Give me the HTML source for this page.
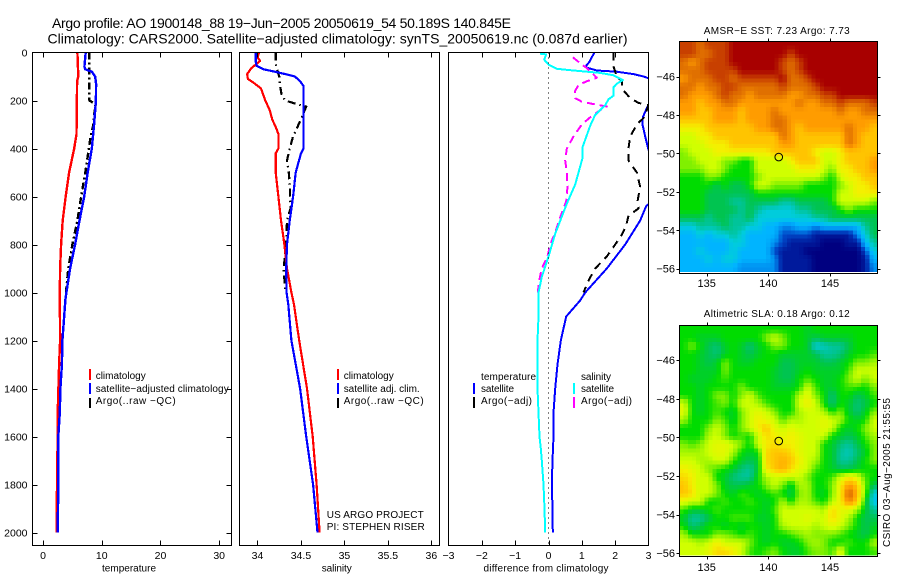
<!DOCTYPE html>
<html>
<head>
<meta charset="utf-8">
<title>Argo profile</title>
<style>
html,body{margin:0;padding:0;background:#fff;}
svg{display:block;font-family:"Liberation Sans",sans-serif;fill:#000;}
text{font-size:10px;}
.ttl{font-size:14px;}
</style>
</head>
<body>
<svg id="chart" xmlns="http://www.w3.org/2000/svg" width="900" height="580" viewBox="0 0 900 580">
<rect width="900" height="580" fill="#fff"/>
<g id="marks"></g>
<text class="ttl" x="52" y="28" textLength="459" lengthAdjust="spacing">Argo profile: AO 1900148_88 19−Jun−2005 20050619_54 50.189S 140.845E</text>
<text class="ttl" x="47.5" y="43.5" textLength="580" lengthAdjust="spacing">Climatology: CARS2000. Satellite−adjusted climatology: synTS_20050619.nc (0.087d earlier)</text>

<text x="102" y="571.5" textLength="54">temperature</text>
<text x="321.7" y="571.5" textLength="30">salinity</text>
<text x="483.5" y="571.5" textLength="125">difference from climatology</text>

<g>
<rect x="89" y="369" width="2" height="11" fill="#f00"/>
<rect x="89" y="383" width="2" height="11" fill="#00f"/>
<rect x="89" y="398" width="2" height="10" fill="#000"/>
<text x="95.7" y="379" textLength="50">climatology</text>
<text x="95.7" y="392" textLength="133">satellite−adjusted climatology</text>
<text x="95.7" y="404" textLength="80">Argo(..raw −QC)</text>
</g>

<g>
<rect x="337" y="369" width="2" height="11" fill="#f00"/>
<rect x="337" y="383" width="2" height="11" fill="#00f"/>
<rect x="337" y="398" width="2" height="10" fill="#000"/>
<text x="343.7" y="379" textLength="50">climatology</text>
<text x="343.7" y="392" textLength="76">satellite adj. clim.</text>
<text x="343.7" y="404" textLength="80">Argo(..raw −QC)</text>
<text x="326.7" y="518" textLength="97">US ARGO PROJECT</text>
<text x="326.7" y="530" textLength="98">PI: STEPHEN RISER</text>
</g>

<g>
<text x="481" y="380" textLength="55">temperature</text>
<rect x="473" y="383" width="2" height="11" fill="#00f"/>
<rect x="473" y="397" width="2" height="11" fill="#000"/>
<text x="481" y="392" textLength="33">satellite</text>
<text x="481" y="404" textLength="51">Argo(−adj)</text>
<text x="581" y="380" textLength="30">salinity</text>
<rect x="573" y="383" width="2" height="11" fill="#0ff"/>
<rect x="573" y="397" width="2" height="11" fill="#f0f"/>
<text x="581" y="392" textLength="33">satellite</text>
<text x="581" y="404" textLength="51">Argo(−adj)</text>
</g>

<text x="776.7" y="34" text-anchor="middle" textLength="146">AMSR−E SST: 7.23 Argo: 7.73</text>
<text x="776.7" y="317" text-anchor="middle" textLength="146">Altimetric SLA: 0.18 Argo: 0.12</text>
<text transform="translate(890,547) rotate(-90)" textLength="149">CSIRO 03−Aug−2005 21:55:55</text>
</svg>

<script>
// ---- profile tick labels ----
const depthTicks = [0,200,400,600,800,1000,1200,1400,1600,1800,2000];
const tempTicks = [0,10,20,30];
const salTicks = [34,34.5,35,35.5,36];
const salTickLabels = ['34','34.5','35','35.5','36'];
const diffTicks = [-3,-2,-1,0,1,2,3];
const lonTicks = [135,140,145];
const latTicks = [-46,-48,-50,-52,-54,-56];

// ---- temperature panel ----
const tempClimDepth = [0,100,120,340,400,500,600,700,800,900,1000,1200,1300,1500,1700,1900,2000];
const tempClimValue = [5.85,6.0,5.8,5.7,5.3,4.43,3.86,3.35,3.07,2.9,2.85,2.9,2.73,2.5,2.45,2.33,2.3];
const tempSatDepth = [0,60,70,80,100,130,200,300,400,500,600,700,800,900,1000,1030,1200,1300,1400,1500,1600,1800,2000];
const tempSatValue = [7.27,7.04,7.2,8.3,8.86,9.03,9.0,8.69,8.3,7.6,7.0,6.2,5.45,4.6,3.97,3.8,3.29,3.2,2.95,2.85,2.6,2.6,2.5];
const tempArgoDepth = [0,50,100,200,210,230,240,300,350,400,500,600,700,800,900,1000];
const tempArgoValue = [7.84,7.9,7.9,7.9,8.57,9.15,8.8,8.57,8.1,7.8,7.2,6.5,5.85,5.0,4.3,3.9];

// ---- salinity panel ----
const salClimDepth = [0,20,35,50,65,90,110,130,150,200,240,280,310,340,400,420,500,600,700,800,900,1000,1050,1200,1400,1600,1800,2000];
const salClimValue = [34.02,34.0,34.03,33.98,33.93,33.88,33.89,33.97,34.04,34.09,34.14,34.17,34.21,34.24,34.24,34.21,34.21,34.24,34.27,34.31,34.34,34.39,34.42,34.48,34.57,34.635,34.68,34.715];
const salSatDepth = [0,40,55,70,80,90,100,120,140,400,420,500,600,700,800,900,1000,1050,1200,1400,1600,1800,2000];
const salSatValue = [33.98,33.98,33.99,34.07,34.2,34.32,34.43,34.49,34.53,34.53,34.5,34.44,34.41,34.37,34.34,34.33,34.335,34.355,34.39,34.49,34.56,34.64,34.69];
const salArgoDepth = [0,50,100,140,180,200,215,225,270,310,350,400,450,500,550,650,700,800,900,1000];
const salArgoValue = [34.21,34.21,34.25,34.26,34.28,34.32,34.45,34.56,34.51,34.46,34.41,34.37,34.34,34.36,34.37,34.38,34.34,34.33,34.3,34.32];

// ---- difference panel ----
const diffTempSatDepth = [0,20,40,60,65,75,80,90,100,110,210,225,270,300,350,405,450,620,640,700,800,900,1000,1033,1100,1200,1300,1400,1500,1600,1700,1800,1900,2000];
const diffTempSatValue = [1.38,1.3,1.22,1.1,1.2,1.45,2.05,2.55,2.85,3.05,3.15,2.97,2.83,2.82,2.9,3.0,3.35,3.1,2.93,2.75,2.3,1.75,1.1,0.95,0.53,0.37,0.27,0.2,0.15,0.15,0.12,0.1,0.12,0.13];
const diffTempArgoDepth = [0,30,50,100,120,150,190,210,220,270,300,350,400,450,500,560,620,650,680,720,760,800,850,900,950,1000];
const diffTempArgoValue = [1.95,1.95,1.93,2.05,2.2,2.2,2.45,2.7,3.0,2.87,2.65,2.45,2.4,2.4,2.65,2.75,2.67,2.7,2.4,2.33,2.2,2.0,1.75,1.4,1.2,1.05];
const diffSalSatDepth = [5,8,30,50,68,75,85,95,115,130,145,180,195,220,260,305,395,440,550,630,755,850,935,1000,1100,1200,1400,1500,1600,1650,1700,1800,1900,2000];
const diffSalSatValue = [-0.25,-0.07,-0.13,0,0.25,0.75,1.55,1.95,2.23,2.05,1.95,1.95,1.8,1.7,1.4,1.25,1.02,1.02,0.8,0.55,0.2,0,-0.2,-0.3,-0.3,-0.33,-0.33,-0.3,-0.27,-0.23,-0.2,-0.15,-0.12,-0.1];
const diffSalArgoDepth = [20,50,65,85,105,120,135,160,190,205,215,225,240,270,300,350,400,450,500,560,620,680,750,800,850,900,950,1000];
const diffSalArgoValue = [0.73,1.0,1.15,1.3,1.45,1.15,0.9,0.8,0.8,1.0,1.35,1.75,1.55,1.25,1.0,0.75,0.55,0.5,0.55,0.57,0.53,0.37,0.2,0.05,-0.03,-0.2,-0.28,-0.32];

// ---- float position ----
const floatLon = 140.845;
const floatLat = -50.189;

// ---- map cell values (colour-scale levels, north to south) ----
const sstCells = [
[15,15,14,15,15,15,16,16,16,16,16,16,16,16,16,16,16,16,16,16,16,16,16,16],
[15,15,14,14,15,15,16,16,16,16,16,16,16,15,16,16,16,16,16,16,16,16,16,16],
[14,13,14,15,15,15,16,16,16,16,16,16,15,14,15,16,16,16,16,16,16,16,16,16],
[14,14,14,15,15,15,15,16,16,16,16,16,15,14,15,16,16,16,16,16,16,16,16,16],
[13,14,14,14,15,15,14,15,15,15,15,15,16,14,14,15,16,16,16,16,16,16,16,16],
[14,14,13,14,14,15,15,14,14,14,14,14,15,14,14,14,15,16,16,16,16,16,16,16],
[14,13,13,13,14,15,14,14,13,14,14,14,14,13,13,14,14,15,15,16,16,16,16,16],
[13,13,12,13,13,14,14,13,13,13,13,13,13,13,14,13,13,14,14,15,14,14,14,15],
[13,13,12,12,13,13,13,12,13,13,13,14,13,13,13,13,13,13,13,14,13,13,14,14],
[12,12,12,12,13,13,13,12,13,13,13,14,14,13,13,13,13,13,13,13,13,13,13,13],
[11,11,11,12,12,12,12,12,12,13,13,14,14,13,12,13,13,13,13,13,14,13,13,12],
[10,10,11,11,12,12,12,12,12,12,12,12,14,13,12,12,12,12,12,12,14,13,12,12],
[10,10,10,11,11,11,12,12,12,12,12,12,13,13,12,12,12,12,12,12,14,13,12,12],
[9,10,10,10,11,11,11,11,11,11,11,12,12,12,12,12,11,10,10,11,12,12,12,12],
[9,9,10,10,10,9,9,8,8,10,10,10,10,11,12,12,12,10,10,11,12,12,12,13],
[9,9,9,10,10,9,8,8,8,10,10,10,10,10,11,11,11,10,9,11,11,12,12,13],
[8,8,8,9,9,8,8,8,8,9,10,10,10,10,10,10,10,9,8,10,11,11,12,12],
[8,8,8,8,7,8,7,7,8,10,10,9,9,9,9,8,8,8,8,9,10,11,11,12],
[8,8,8,7,7,7,7,7,7,8,8,8,8,8,8,8,8,8,8,10,10,11,11,11],
[8,8,8,7,7,7,6,6,7,7,7,7,6,6,7,7,7,7,8,10,10,10,10,9],
[8,8,8,7,7,7,7,6,7,6,5,5,5,5,6,6,7,7,7,8,9,8,8,8],
[7,7,7,6,7,7,6,6,7,5,5,5,5,5,5,5,6,6,7,7,7,7,7,7],
[5,5,6,6,6,7,6,6,5,5,4,4,3,3,4,4,3,4,4,4,4,4,6,7],
[4,4,5,4,5,5,6,5,4,4,4,4,2,2,2,2,1,1,1,1,1,3,5,7],
[4,4,4,4,4,4,5,5,4,4,4,3,2,1,1,1,1,0,0,0,1,1,4,6],
[4,4,5,4,4,4,5,4,4,4,4,2,1,1,1,0,0,0,0,0,0,0,2,5],
[4,4,4,5,4,5,5,4,4,4,4,3,1,1,1,1,0,0,0,0,0,0,1,4],
[4,4,4,4,4,4,4,3,3,3,3,3,1,1,1,1,0,0,0,0,0,0,1,3]
];
const slaCells = [
[8,8,8,8,8,8,8,8,8,8,8,8,8,8,8,7.5,8,8,8,8,8,8,8,8],
[8,8,7.5,7.5,7.5,8,8,8,8,8,9,10,9,8,8,7.5,7,7.5,7.5,7.5,7.5,8,8,8],
[8,9,8,7,6.5,7.5,8,7.5,6.5,7.5,8,9,9,8,8,7.5,5,5.5,6,6,7,8,8,8],
[8,8,7.5,7,6.5,7.5,8,7.5,7,7.5,8,8,7.5,7.5,7.5,7.5,7,6,6,6.5,7.5,8,8,8.5],
[8,8,7.5,7,7.5,9,8,7.5,7.5,8,8,8,7,7,7.5,7.5,7.5,7,7,7.5,8,9,9,9.5],
[8,8,7.5,7.5,7.5,9,8,8,8,8,8,7.5,7,7,7.5,8,7.5,7.5,7.5,7.5,8.5,10,10,10],
[8,7.5,7.5,7.5,8,8.5,8,8,8,8,8,7.5,7,7,8,8.5,8,7.5,7.5,8,9,10,9,10],
[8,8,7.5,8,8,8,8,9,8,8,8,7.5,7.5,7.5,8,10,8.5,7.5,7.5,8,8.5,8.5,8,9],
[8,8,7.5,8,9,9,8,9,10,8.5,8,8,8,8,9.5,10.5,9,8,6.5,8,8,7,7.5,8.5],
[10,8,7.5,8,8.5,9,8,10,10,9.5,8.5,8,8,8,10,11,10,8,6.5,8,7.5,6.5,7,8],
[10.5,8,7.5,8,8.5,8,7.5,9,10,10.5,10,9,8,8,9.5,10,10,9.5,8,9,7.5,6.5,7.5,9],
[9.5,8,8,8,9,8.5,7.5,9,10,11,10.5,10,8.5,9.5,9.5,10,10,10.5,10,9.5,8,7.5,8,10],
[8,8,8,9,10,9,8,9,10,11,12,10.5,10,10.5,10,10,10,10.5,10,8,7.5,8,9,10],
[8,8,8,9.5,10,9,8,8.5,8,10,11.5,11,10.5,11,10.5,10,10,10,8,7.5,7,7.5,8.5,9.5],
[9,8.5,9,10,10.5,10.5,10,9,8,10,11,11.5,11,11,10.5,10,10,8,7.5,6.5,6,7,8,9],
[9.5,9.5,9.5,10,10.5,10.5,9.5,8,7.5,8,11.5,12,12,11.5,10.5,10,10,8,7.5,6,5.5,6.5,7.5,9],
[10,10,9.5,9.5,10,10,8.5,7.5,7,7.5,11.5,12,12.5,12,11,10,9.5,8,7.5,6,6,7,8,9],
[11,10.5,10,9,8.5,8,7.5,6.5,6,7.5,11,12,12.5,11.5,10.5,10,8.5,8,7.5,7,7,7.5,8,8],
[11.5,11,10,10,8,7.5,6.5,6,6,8,9.5,10,10,10,10,9,8,8,8.5,10,11,10.5,8.5,8],
[12,11,10,10,9,7.5,7,7,7.5,8,9,10,9,7.5,9.5,9.5,8,8,9,11,13,12,9,7],
[12,11.5,10,10,9,8,7.5,8.5,8,7.5,8,8.5,8,7,9,9.5,8,7.5,9,11,14.5,12.5,9,5],
[10.5,10,10,8,8,8.5,8,8,8.5,8,7.5,8,9.5,8,9.5,9.5,8.5,8,9.5,11,13.5,12,8,4.5],
[8.5,7.5,7.5,8,8.5,8,8,8,8,8,7.5,8.5,10,10,10,10,10,9.5,11.5,10.5,10.5,9.5,7.5,6],
[7.5,6,6,7,8,8,8.5,8.5,8.5,7.5,7.5,8,10,10,10,10.5,10,10,11.5,10.5,9.5,8,7,7],
[8,6.5,7,8,8,7.5,8,7.5,8,8,7.5,8,9.5,10,10,10,9.5,10,10.5,10,9,8,7,7.5],
[9.5,8,8,8,9,9,8.5,8,8.5,8,7.5,8,8,8.5,9,9.5,9,9,9,8.5,8,7.5,7,8],
[10,10,9.5,10,11,10,10,10,9,8,7.5,8,7.5,7.5,8,9,9.5,9,8,8,8.5,8,8,9.5],
[10,10,10,10.5,11.5,11.5,11,10,8.5,8,8.5,9,8,7.5,7.5,8.5,9,9,8.5,10.5,8,8,8,8.5]
];

// ---- colour scale stops, one per level ----
const levelColors = ['#000080','#001a9c','#0048c8','#0090f0','#00b4ff','#00ccdc','#00c49a','#00c450','#00dc00','#80f000','#d0ff00','#f4f000','#ffc400','#ff9c00','#e07000','#c84000','#a80000'];

const NS = 'http://www.w3.org/2000/svg';
const root = document.getElementById('marks');

function make(tag, attrs, parent) {
  const el = document.createElementNS(NS, tag);
  for (const k in attrs) el.setAttribute(k, attrs[k]);
  parent.appendChild(el);
  return el;
}
function linear(d0, d1, r0, r1) {
  return function (v) { return r0 + (v - d0) * (r1 - r0) / (d1 - d0); };
}
function hexToRgb(h) {
  return [parseInt(h.slice(1,3),16), parseInt(h.slice(3,5),16), parseInt(h.slice(5,7),16)];
}
function levelColor(v) {
  const c = Math.max(0, Math.min(levelColors.length - 1, v));
  const i = Math.min(levelColors.length - 2, Math.floor(c));
  const t = c - i;
  const a = hexToRgb(levelColors[i]);
  const b = hexToRgb(levelColors[i + 1]);
  return 'rgb(' + a.map(function (x, j) { return Math.round(x + (b[j] - x) * t); }).join(',') + ')';
}
function sampleCells(cells, u, v) {
  const rows = cells.length;
  const cols = cells[0].length;
  const cu = Math.max(0, Math.min(cols - 1, u));
  const cv = Math.max(0, Math.min(rows - 1, v));
  const c0 = Math.floor(cu);
  const r0 = Math.floor(cv);
  const c1 = Math.min(cols - 1, c0 + 1);
  const r1 = Math.min(rows - 1, r0 + 1);
  const fu = cu - c0;
  const fv = cv - r0;
  const top = cells[r0][c0] * (1 - fu) + cells[r0][c1] * fu;
  const bottom = cells[r1][c0] * (1 - fu) + cells[r1][c1] * fu;
  return top * (1 - fv) + bottom * fv;
}
function addLine(parent, x1, y1, x2, y2, name) {
  const el = make('line', {x1: x1, y1: y1, x2: x2, y2: y2, stroke: '#000', 'stroke-width': 1, 'shape-rendering': 'crispEdges'}, parent);
  
  
  return el;
}
function addLabel(parent, x, y, str, anchor, size, name) {
  const el = make('text', {x: x, y: y, 'text-anchor': anchor, style: 'font-size:' + size + 'px'}, parent);
  el.textContent = str;
  
  
  return el;
}
function addFrame(parent, box, name) {
  const el = make('rect', {x: box.left, y: box.top, width: box.right - box.left, height: box.bottom - box.top, fill: 'none', stroke: '#000', 'stroke-width': 1, 'shape-rendering': 'crispEdges'}, parent);
  
  
}

let clipCount = 0;
function profilePanel(name, box, xDomain, xTicks, xLabels, withDepthTicks, series) {
  const g = make('g', {}, root);
  
  
  const xs = linear(xDomain[0], xDomain[1], box.left, box.right);
  const ys = linear(0, 2054, box.top, box.bottom);
  clipCount += 1;
  const cid = 'panel-clip-' + clipCount;
  const defs = make('clipPath', {id: cid}, g);
  make('rect', {x: box.left, y: box.top, width: box.right - box.left, height: box.bottom - box.top}, defs);
  const plot = make('g', {'clip-path': 'url(#' + cid + ')'}, g);
  series.forEach(function (s) {
    const pts = s.depth.map(function (d, i) { return (i ? 'L' : 'M') + xs(s.value[i]).toFixed(1) + ' ' + ys(d).toFixed(1); }).join('');
    const p = make('path', {d: pts, fill: 'none', stroke: s.color, 'stroke-width': s.width, 'stroke-dasharray': s.dash || 'none', 'stroke-linejoin': 'round', 'shape-rendering': 'crispEdges'}, plot);
    
    
  });
  addFrame(g, box, name + '-frame');
  xTicks.forEach(function (t, i) {
    const x = Math.round(xs(t)) + 0.5;
    if (t > xDomain[0] && t < xDomain[1]) {
      addLine(g, x, box.bottom, x, box.bottom - 5, 'x-tick-bottom');
      addLine(g, x, box.top, x, box.top + 5, 'x-tick-top');
    }
    addLabel(g, xs(t), 559, xLabels[i], 'middle', 10.5, 'x-tick-label');
  });
  if (withDepthTicks) {
    depthTicks.forEach(function (d) {
      const y = Math.round(ys(d)) + 0.5;
      if (d > 0) addLine(g, box.left, y, box.left + 5, y, 'depth-tick-left');
      if (d > 0) addLine(g, box.right, y, box.right - 5, y, 'depth-tick-right');
      addLabel(g, 27.5, ys(d) + 4, String(d), 'end', 10.5, 'depth-tick-label');
    });
  }
  return {g: g, xs: xs, ys: ys, plot: plot};
}

function mapPanel(name, box, lonDomain, latDomain, cells, gridBottomLat, xLabelY) {
  const g = make('g', {}, root);
  
  
  const xs = linear(lonDomain[0], lonDomain[1], box.left, box.right);
  const ys = linear(latDomain[0], latDomain[1], box.top, box.bottom);
  const sub = 2;
  const rows = cells.length * sub;
  const cols = cells[0].length * sub;
  const lonStep = (lonDomain[1] - lonDomain[0]) / cols;
  const latStep = (latDomain[0] - gridBottomLat) / rows;
  for (let r = 0; r < rows; r++) {
    for (let c = 0; c < cols; c++) {
      const v = sampleCells(cells, (c + 0.5) / sub - 0.5, (r + 0.5) / sub - 0.5);
      const x0 = xs(lonDomain[0] + c * lonStep);
      const x1 = xs(lonDomain[0] + (c + 1) * lonStep);
      const y0 = ys(latDomain[0] - r * latStep);
      const y1 = ys(latDomain[0] - (r + 1) * latStep);
      const rect = make('rect', {x: x0.toFixed(2), y: y0.toFixed(2), width: (x1 - x0 + 0.6).toFixed(2), height: (y1 - y0 + 0.6).toFixed(2), fill: levelColor(v), 'shape-rendering': 'crispEdges'}, g);
      
      
    }
  }
  addFrame(g, box, name + '-frame');
  lonTicks.forEach(function (t) {
    const x = Math.round(xs(t)) + 0.5;
    addLine(g, x, box.top, x, box.top - 3, 'lon-tick-top');
    addLine(g, x, box.bottom, x, box.bottom + 3, 'lon-tick-bottom');
    addLabel(g, xs(t), xLabelY, String(t), 'middle', 11, 'lon-tick-label');
  });
  latTicks.forEach(function (t) {
    const y = Math.round(ys(t)) + 0.5;
    addLine(g, box.left, y, box.left - 3, y, 'lat-tick-left');
    addLine(g, box.right, y, box.right + 3, y, 'lat-tick-right');
    addLabel(g, 675, ys(t) + 4, '−' + Math.abs(t), 'end', 11, 'lat-tick-label');
  });
  const dot = make('circle', {cx: xs(floatLon), cy: ys(floatLat), r: 3.8, fill: 'none', stroke: '#000', 'stroke-width': 1}, g);
  
  
}

profilePanel('temperature-panel', {left: 32.5, right: 231.5, top: 52.5, bottom: 545.5}, [-1.8, 32.1], tempTicks, tempTicks.map(String), true, [
  {name: 'temperature-argo-line', depth: tempArgoDepth, value: tempArgoValue, color: '#000', width: 2.4, dash: '7,3,2,3'},
  {name: 'temperature-climatology-line', depth: tempClimDepth, value: tempClimValue, color: '#f00', width: 2.4},
  {name: 'temperature-satellite-line', depth: tempSatDepth, value: tempSatValue, color: '#00f', width: 2.4}
]);
profilePanel('salinity-panel', {left: 239.5, right: 439.5, top: 52.5, bottom: 545.5}, [33.793, 36.094], salTicks, salTickLabels, false, [
  {name: 'salinity-argo-line', depth: salArgoDepth, value: salArgoValue, color: '#000', width: 2.2, dash: '8,4,1.5,4'},
  {name: 'salinity-climatology-line', depth: salClimDepth, value: salClimValue, color: '#f00', width: 2.2},
  {name: 'salinity-satellite-line', depth: salSatDepth, value: salSatValue, color: '#00f', width: 2.2}
]);
const diffPanel = profilePanel('difference-panel', {left: 448.5, right: 648.5, top: 52.5, bottom: 545.5}, [-3, 3], diffTicks, diffTicks.map(function (t) { return t < 0 ? '−' + Math.abs(t) : String(t); }), false, [
  {name: 'difference-temperature-satellite-line', depth: diffTempSatDepth, value: diffTempSatValue, color: '#00f', width: 2},
  {name: 'difference-temperature-argo-line', depth: diffTempArgoDepth, value: diffTempArgoValue, color: '#000', width: 2, dash: '8,6'},
  {name: 'difference-salinity-argo-line', depth: diffSalArgoDepth, value: diffSalArgoValue, color: '#f0f', width: 2, dash: '8,5'},
  {name: 'difference-salinity-satellite-line', depth: diffSalSatDepth, value: diffSalSatValue, color: '#0ff', width: 2}
]);
const zeroLine = make('line', {x1: diffPanel.xs(0) + 0.2, y1: 52.5, x2: diffPanel.xs(0) + 0.2, y2: 545.5, stroke: '#000', 'stroke-width': 1, 'stroke-dasharray': '1,4', 'shape-rendering': 'crispEdges'}, diffPanel.g);



mapPanel('sst-map', {left: 679.5, right: 877.5, top: 41.5, bottom: 273.5}, [132.8, 148.85], [-44.17, -56.25], sstCells, -56.14, 287);
mapPanel('sla-map', {left: 679.5, right: 877.5, top: 325.5, bottom: 556.5}, [132.8, 148.85], [-44.2, -56.17], slaCells, -56.08, 571);
</script>
</body>
</html>
